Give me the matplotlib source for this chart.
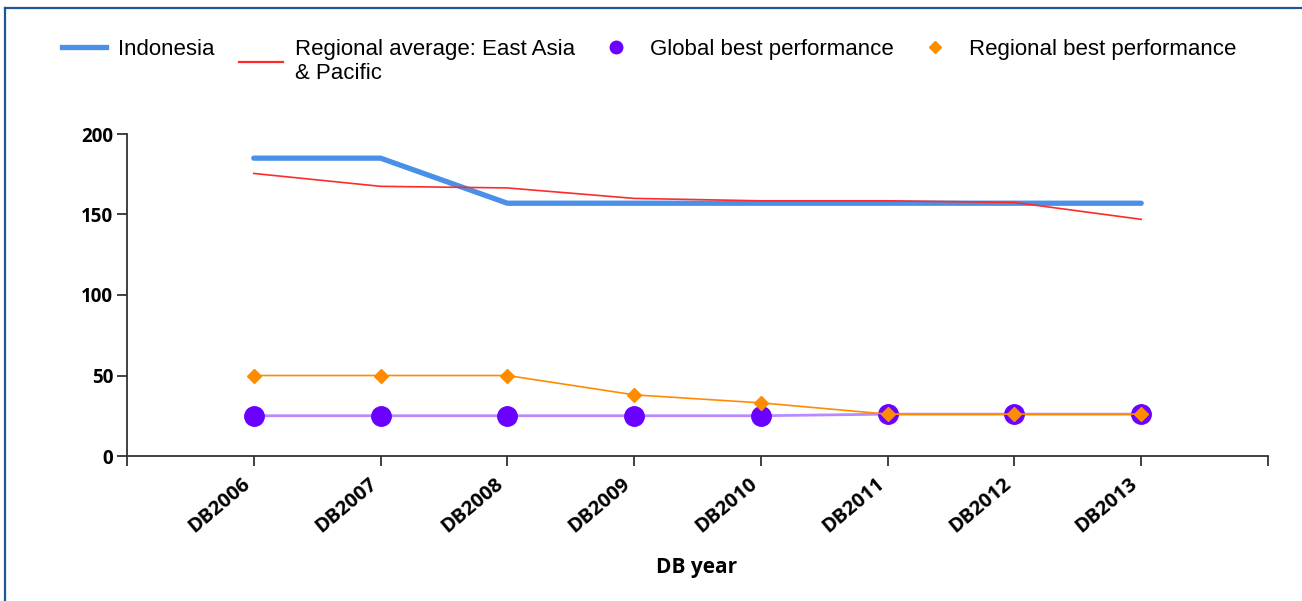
import matplotlib
matplotlib.use("Agg")
import matplotlib.pyplot as plt
from matplotlib.lines import Line2D
import matplotlib.transforms as mtransforms

# ---- data ----
years = ["DB2006", "DB2007", "DB2008", "DB2009", "DB2010", "DB2011", "DB2012", "DB2013"]
indonesia = [185, 185, 157, 157, 157, 157, 157, 157]
regional_avg = [175.5, 167.5, 166.5, 160, 158.5, 158.5, 157.5, 147]
global_best = [25, 25, 25, 25, 25, 26, 26, 26]
regional_best = [50, 50, 50, 38, 33, 26, 26, 26]
yticks = [0, 50, 100, 150, 200]

labels = ["Indonesia", "Regional average: East Asia\n& Pacific",
          "Global best performance", "Regional best performance"]

W, H = 1302, 601
fig = plt.figure(figsize=(W / 100, H / 100), dpi=100)
ax = fig.add_axes([127 / W, 1 - 456 / H, (1268 - 127) / W, (456 - 134) / H])

x = list(range(len(years)))
c_indo = "#4A8FE8"
c_reg = "#FF2A2A"
c_glob = "#6A00FF"
c_glob_line = "#B98AFF"
c_rbest = "#FF8C00"

ax.plot(x, indonesia, color=c_indo, lw=3.8, solid_capstyle="round", zorder=3)
ax.plot(x, regional_avg, color=c_reg, lw=1.2, zorder=4)
ax.plot(x, global_best, color=c_glob_line, lw=2.0, zorder=2)
ax.plot(x, global_best, ls="none", marker="o", ms=14, color=c_glob, zorder=5)
ax.plot(x, regional_best, color=c_rbest, lw=1.2, zorder=6)
ax.plot(x, regional_best, ls="none", marker="D", ms=7, color=c_rbest, zorder=7)

ax.set_xlim(-1, 8)
ax.set_ylim(0, 200)
ax.set_yticks(yticks)
ax.set_xticks(x)
ax.set_xticks([-1, 8], minor=True)
ax.set_xticklabels([""] * len(years))
ax.set_yticklabels([str(v) for v in yticks], fontsize=13.5, fontweight="bold", family="Open Sans")

# rotated category labels, anchored just below-left of each tick
offset = mtransforms.ScaledTranslation(-9 / 72, -13 / 72, fig.dpi_scale_trans)
for xi, lab in zip(x, years):
    ax.text(xi, 0, lab, transform=ax.get_xaxis_transform() + offset,
            rotation=40, ha="right", va="top", rotation_mode="anchor",
            fontsize=14.5, fontweight="bold", family="Open Sans")

for s in ["top", "right"]:
    ax.spines[s].set_visible(False)
for s in ["left", "bottom"]:
    ax.spines[s].set_color("#333333")
    ax.spines[s].set_linewidth(1.3)
ax.tick_params(axis="both", which="both", direction="out", length=7, width=1.3, color="#333333")
ax.tick_params(axis="y", pad=3)

fig.text(697 / W, 1 - 567 / H, "DB year", ha="center", va="center",
         fontsize=15, fontweight="bold", family="Open Sans")

# ---- legend (four single-entry legends placed like the original) ----
handles = [
    Line2D([], [], color=c_indo, lw=3.8),
    Line2D([], [], color=c_reg, lw=1.6),
    Line2D([], [], ls="none", marker="o", ms=9, color=c_glob),
    Line2D([], [], ls="none", marker="D", ms=6, color=c_rbest),
]
xpos = [62, 239, 594, 913]
for h, lab, xp in zip(handles, labels, xpos):
    fig.legend(handles=[h], labels=[lab], loc="upper left",
               bbox_to_anchor=(xp / W, 1 - 39 / H), frameon=False,
               borderpad=0, borderaxespad=0, handlelength=2.0, handletextpad=0.5,
               prop={"family": "Liberation Sans", "size": 16}, labelspacing=0)

# ---- figure frame ----
fc = "#1F5696"
fig.add_artist(Line2D([5 / W, 5 / W], [0, 1 - 8 / H], color=fc, lw=1.6, transform=fig.transFigure))
fig.add_artist(Line2D([5 / W, 1], [1 - 8 / H, 1 - 8 / H], color=fc, lw=1.6, transform=fig.transFigure))

fig.savefig("out.png", dpi=100)
